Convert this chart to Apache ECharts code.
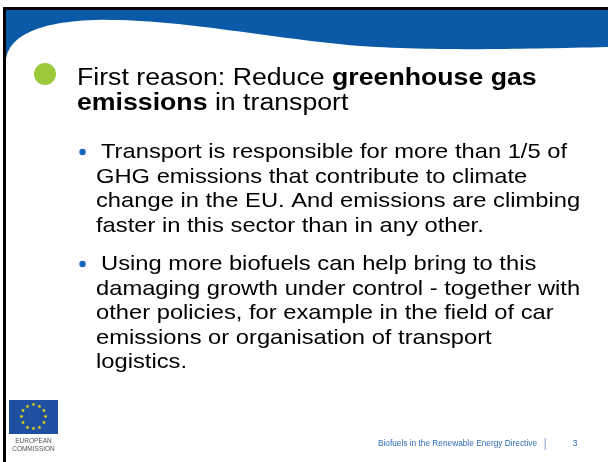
<!DOCTYPE html>
<html>
<head>
<meta charset="utf-8">
<title>First reason</title>
<script src="https://cdn.jsdelivr.net/npm/echarts@6/dist/echarts.min.js"></script>
<style>
  html, body { margin: 0; padding: 0; background: #fff; }
  #slide { width: 608px; height: 462px; }
</style>
</head>
<body>
<div id="slide"></div>
<script>
// slide text
const titleLines = [
  '{r|First reason: Reduce }{b|greenhouse gas}',
  '{b|emissions}{r| in transport}'
]
const bulletOne = [
  'Transport is responsible for more than 1/5 of',
  'GHG emissions that contribute to climate',
  'change in the EU. And emissions are climbing',
  'faster in this sector than in any other.'
]
const bulletTwo = [
  'Using more biofuels can help bring to this',
  'damaging growth under control - together with',
  'other policies, for example in the field of car',
  'emissions or organisation of transport',
  'logistics.'
]
const footerText = 'Biofuels in the Renewable Energy Directive'
const pageNumber = '3'
const logoLines = ['EUROPEAN', 'COMMISSION']

const FONT = '"Liberation Sans", Arial, sans-serif'
const BLUE = '#0b5aa8'

const chart = echarts.init(document.getElementById('slide'), null, { renderer: 'canvas' })

// sample a chain of cubic bezier segments into polygon points
function bezierPoints(start, segs, steps) {
  const pts = [start]
  let p0 = start
  segs.forEach(([c1, c2, p3]) => {
    for (let k = 1; k <= steps; k++) {
      const t = k / steps, u = 1 - t
      pts.push([
        u * u * u * p0[0] + 3 * u * u * t * c1[0] + 3 * u * t * t * c2[0] + t * t * t * p3[0],
        u * u * u * p0[1] + 3 * u * u * t * c1[1] + 3 * u * t * t * c2[1] + t * t * t * p3[1]
      ])
    }
    p0 = p3
  })
  return pts
}

const wave = bezierPoints([6, 59], [
  [[9, 38], [34, 22], [95, 20]],
  [[175, 18], [265, 38], [360, 46]],
  [[440, 51], [520, 49], [608, 47]]
], 30).concat([[608, 462], [6, 462]])

function bodyLines(lines, top, firstX, restX) {
  return lines.map((txt, i) => ({
    type: 'text',
    x: i === 0 ? firstX : restX,
    y: top + i * 24.5,
    scaleX: 1.13,
    style: {
      text: txt,
      font: '21px ' + FONT,
      fill: '#000',
      verticalAlign: 'middle'
    }
  }))
}

// 12 stars of the EU flag
const stars = []
for (let i = 0; i < 12; i++) {
  const a = i * Math.PI / 6
  stars.push({
    type: 'text',
    x: 33.5 + 12 * Math.sin(a),
    y: 417 - 12 * Math.cos(a),
    style: {
      text: '★',
      font: '5px "DejaVu Sans"',
      fill: '#ffe600',
      align: 'center',
      verticalAlign: 'middle'
    }
  })
}

const graphic = [
  // frame lines
  { type: 'rect', shape: { x: 3, y: 7, width: 605, height: 3 }, style: { fill: '#000' } },
  { type: 'rect', shape: { x: 3, y: 7, width: 3, height: 455 }, style: { fill: '#000' } },
  // blue header with white wave
  { type: 'rect', shape: { x: 6, y: 10, width: 602, height: 60 }, style: { fill: BLUE } },
  { type: 'polygon', shape: { points: wave }, style: { fill: '#fff' } },
  // title
  { type: 'circle', shape: { cx: 45, cy: 74, r: 11 }, style: { fill: '#9cc93b' } },
  ...titleLines.map((t, i) => ({
    type: 'text',
    x: 77,
    y: 78.5 + i * 25.5,
    scaleX: 1.16,
    style: {
      text: t,
      verticalAlign: 'middle',
      rich: {
        r: { font: '23px ' + FONT, fill: '#000' },
        b: { font: 'bold 23px ' + FONT, fill: '#000' }
      }
    }
  })),
  // bullets
  { type: 'circle', shape: { cx: 82.5, cy: 152, r: 3.2 }, style: { fill: '#1565c0' } },
  { type: 'circle', shape: { cx: 82.5, cy: 264, r: 3.2 }, style: { fill: '#1565c0' } },
  ...bodyLines(bulletOne, 152.5, 101, 96),
  ...bodyLines(bulletTwo, 264.5, 101, 96),
  // footer
  {
    type: 'text', x: 537, y: 444,
    style: { text: footerText, font: '8.3px ' + FONT, fill: '#2e6cb6', align: 'right', verticalAlign: 'middle' }
  },
  { type: 'rect', shape: { x: 544.5, y: 438, width: 1.5, height: 12 }, style: { fill: '#a9c0de' } },
  {
    type: 'text', x: 575, y: 444,
    style: { text: pageNumber, font: '8.3px ' + FONT, fill: '#2e6cb6', align: 'center', verticalAlign: 'middle' }
  },
  // EU logo
  { type: 'rect', shape: { x: 9, y: 400, width: 49, height: 34 }, style: { fill: '#1f4f9f' } },
  ...stars,
  ...logoLines.map((t, i) => ({
    type: 'text', x: 33.5, y: 441 + i * 8.5,
    style: { text: t, font: '6.5px ' + FONT, fill: '#555', align: 'center', verticalAlign: 'middle' }
  }))
]

chart.setOption({
  backgroundColor: '#fff',
  animation: false,
  graphic: graphic
})

window.addEventListener('resize', () => chart.resize())
</script>
</body>
</html>
